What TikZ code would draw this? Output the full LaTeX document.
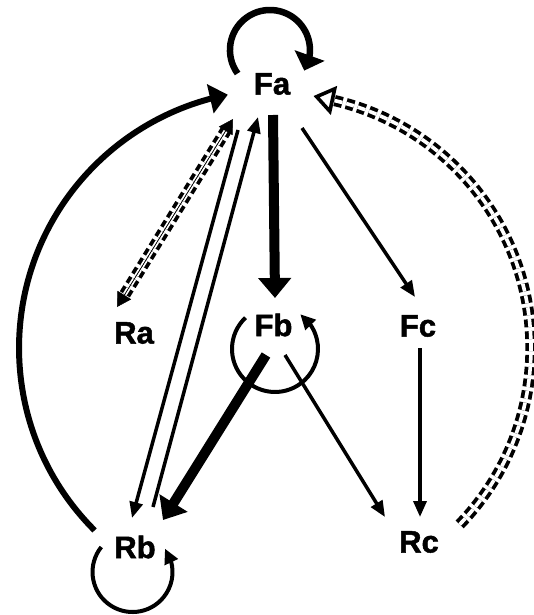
\documentclass[tikz,border=0pt]{standalone}
\usepackage{fontspec}
\setmainfont{Liberation Sans}
\newfontfamily\lblfont{Liberation Sans}[BoldFeatures={FakeBold=1.6}]
\usetikzlibrary{arrows.meta,bending,calc}
\begin{document}
\begin{tikzpicture}[x=1pt,y=-1pt,
  lbl/.style={font=\lblfont\bfseries\fontsize{31}{32}\selectfont, inner sep=0pt, anchor=center},
  thinarr/.style={line width=3.5pt, -{Triangle[length=16pt,width=13pt]}},
  boldarr/.style={line width=#1, -{Triangle[length=20pt,width=32pt]}},
  loopthin/.style={line width=4pt, -{Triangle[flex,length=15pt,width=14pt]}},
  loopthick/.style={line width=6.5pt, -{Triangle[flex,length=16pt,width=31pt]}},
  dashdbl/.style={line width=3.8pt, double=white, double distance=4.2pt, dash pattern=on 7pt off 4pt},
  tiponly/.style={line width=0.5pt, -{Triangle[length=14pt,width=16pt]}},
]
\useasboundingbox (0,0) rectangle (534,615);

% nodes
\node[lbl] (Fa) at (272,84) {Fa};
\node[lbl] (Ra) at (134,333) {Ra};
\node[lbl] (Fb) at (273.5,325) {Fb};
\node[lbl] (Fc) at (418,326) {Fc};
\node[lbl] (Rb) at (135,547) {Rb};
\node[lbl] (Rc) at (419,542) {Rc};

% end points
\coordinate (faS) at (273,115);   \coordinate (fbE) at (275,298);
\coordinate (faC) at (302,128);   \coordinate (fcE) at (415,297);
\coordinate (fcS) at (420,348);   \coordinate (rcE) at (420,517);
\coordinate (fbR) at (285,355);   \coordinate (rcW) at (385,517);
\coordinate (fbL) at (266,355);   \coordinate (rbE) at (163,520);
\coordinate (faL) at (238,130);   \coordinate (rbT) at (132,518);
\coordinate (rbS) at (153,507);   \coordinate (faT) at (258,117);
\coordinate (faD) at (233,119);   \coordinate (raD) at (117,307);
\coordinate (rbArc) at (94.6,530.4);
\coordinate (rcArc) at (459.7,524.4);
\coordinate (faH) at (313.5,96);
\coordinate (faLoop) at (237.6,73.5);
\coordinate (fbLoop) at (245.5,317.7);
\coordinate (rbLoop) at (101.3,547);

% straight connectors
\draw[boldarr=10pt] (faS) -- (fbE);
\draw[boldarr=10pt] (fbL) -- (rbE);
\draw[thinarr] (faC) -- (fcE);
\draw[thinarr] (fcS) -- (rcE);
\draw[thinarr] (fbR) -- (rcW);
\draw[thinarr] (faL) -- (rbT);
\draw[thinarr] (rbS) -- (faT);

% dashed double Fa <-> Ra
\draw[dashdbl, shorten <=12pt, shorten >=12pt] (faD) -- (raD);
\draw[tiponly] ($(faD)!14pt!(raD)$) -- (raD);
\draw[tiponly] ($(raD)!14pt!(faD)$) -- (faD);

% loops
\draw[loopthick] (faLoop) arc[start angle=144, end angle=391, radius=40];
\draw[loopthin] (fbLoop) arc[start angle=226.7, end angle=-54, radius=43];
\draw[loopthin] (rbLoop) arc[start angle=218.7, end angle=-35.8, radius=40];

% big curved connectors
\draw[line width=6pt, -{Triangle[flex,length=18pt,width=29pt]}] (rbArc) arc[start angle=135, end angle=259, radius=258];
\draw[dashdbl, double distance=3.6pt, dash pattern=on 8pt off 4pt] (rcArc) arc[start angle=44, end angle=-77, radius=254] coordinate (rArcEnd);
\draw[line width=3.6pt, -{Triangle[open,length=21pt,width=29pt]}] (rArcEnd) -- (faH);
\end{tikzpicture}
\end{document}
